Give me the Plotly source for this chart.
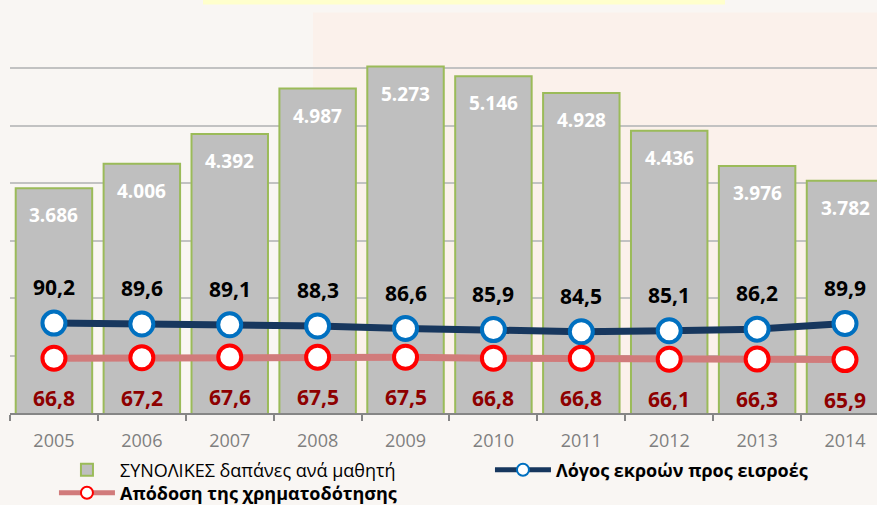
import plotly.graph_objects as go

# Data
years = ["2005", "2006", "2007", "2008", "2009", "2010", "2011", "2012", "2013", "2014"]
spend_per_student = [3686, 4006, 4392, 4987, 5273, 5146, 4928, 4436, 3976, 3782]
output_input_ratio = [90.2, 89.6, 89.1, 88.3, 86.6, 85.9, 84.5, 85.1, 86.2, 89.9]
funding_efficiency = [66.8, 67.2, 67.6, 67.5, 67.5, 66.8, 66.8, 66.1, 66.3, 65.9]

name_spend = "ΣΥΝΟΛΙΚΕΣ δαπάνες ανά μαθητή"
name_ratio = "<b>Λόγος εκροών προς εισροές</b>"
name_eff = "<b>Απόδοση της χρηματοδότησης</b>"

FONT = "Open Sans, Noto Sans, sans-serif"
BG = "#F9F6F3"


def thousands(v):
    return f"{v:,}".replace(",", ".")


def decimal(v):
    return f"{v:.1f}".replace(".", ",")


fig = go.Figure()

fig.add_trace(go.Bar(
    x=years, y=spend_per_student, name=name_spend,
    marker=dict(color="#BFBFBF", line=dict(color="#9BBB59", width=2)),
    yaxis="y", hoverinfo="skip", legend="legend",
))

fig.add_trace(go.Scatter(
    x=years, y=output_input_ratio, name=name_ratio, mode="lines+markers",
    line=dict(color="#17375E", width=7),
    marker=dict(symbol="circle", size=23, color="white",
                line=dict(color="#0070C0", width=4)),
    yaxis="y2", hoverinfo="skip", legend="legend2",
))

fig.add_trace(go.Scatter(
    x=years, y=funding_efficiency, name=name_eff, mode="lines+markers",
    line=dict(color="#D17B7B", width=7),
    marker=dict(symbol="circle", size=23, color="white",
                line=dict(color="#FF0000", width=4)),
    yaxis="y2", hoverinfo="skip", legend="legend3",
))

# value labels: category axis annotations are positioned by category index
annotations = []
for i, v in enumerate(spend_per_student):
    annotations.append(dict(x=i, y=v, xref="x", yref="y", yshift=-27,
                            text=f"<b>{thousands(v)}</b>", showarrow=False,
                            font=dict(family=FONT, size=19, color="white")))
for i, v in enumerate(output_input_ratio):
    annotations.append(dict(x=i, y=v, xref="x", yref="y2", yshift=36,
                            text=f"<b>{decimal(v)}</b>", showarrow=False,
                            font=dict(family=FONT, size=21, color="black")))
for i, v in enumerate(funding_efficiency):
    annotations.append(dict(x=i, y=v, xref="x", yref="y2", yshift=-40,
                            text=f"<b>{decimal(v)}</b>", showarrow=False,
                            font=dict(family=FONT, size=21, color="#8E0000")))

shapes = [
    # tinted right-hand panel behind the plot
    dict(type="rect", xref="paper", yref="paper", x0=0.3495, x1=1.0, y0=0, y1=0.994,
         fillcolor="#FBF1EB", line=dict(width=0), layer="below"),
    # title strip at the top edge
    dict(type="rect", xref="paper", yref="paper", x0=0.2226, x1=0.8247, y0=1.0137, y1=1.03,
         fillcolor="#FFFFCC", line=dict(width=0), layer="below"),
]

legend_common = dict(orientation="h", xanchor="left", yanchor="middle",
                     itemwidth=56, itemsizing="constant",
                     font=dict(family=FONT, size=18, color="black"),
                     bgcolor="rgba(0,0,0,0)")

fig.update_layout(
    width=877, height=505,
    margin=dict(l=10, r=0, t=10, b=92, autoexpand=False),
    paper_bgcolor=BG, plot_bgcolor="rgba(0,0,0,0)",
    font=dict(family=FONT, color="black"),
    bargap=0.13,
    showlegend=True,
    legend=dict(x=0.0507, y=-0.1414, **legend_common),
    legend2=dict(x=0.5536, y=-0.1414, **legend_common),
    legend3=dict(x=0.0507, y=-0.1985, **legend_common),
    xaxis=dict(
        type="category", range=[-0.5, 9.364],
        showline=True, linecolor="#868686", linewidth=2,
        ticks="outside", tickson="boundaries", ticklen=6, tickwidth=2, tickcolor="#868686",
        ticklabelstandoff=10,
        tickfont=dict(family=FONT, size=18, color="#7F7F7F"),
        showgrid=False, fixedrange=True,
    ),
    yaxis=dict(
        range=[750, 6012], tick0=750, dtick=750,
        showgrid=True, gridcolor="#C2C2C2", gridwidth=1.6,
        showticklabels=False, zeroline=False, showline=False,
    ),
    yaxis2=dict(
        range=[30.35, 298.7], overlaying="y", side="right",
        showgrid=False, showticklabels=False, zeroline=False, showline=False,
    ),
    annotations=annotations,
    shapes=shapes,
)

fig.write_html("out.html")
